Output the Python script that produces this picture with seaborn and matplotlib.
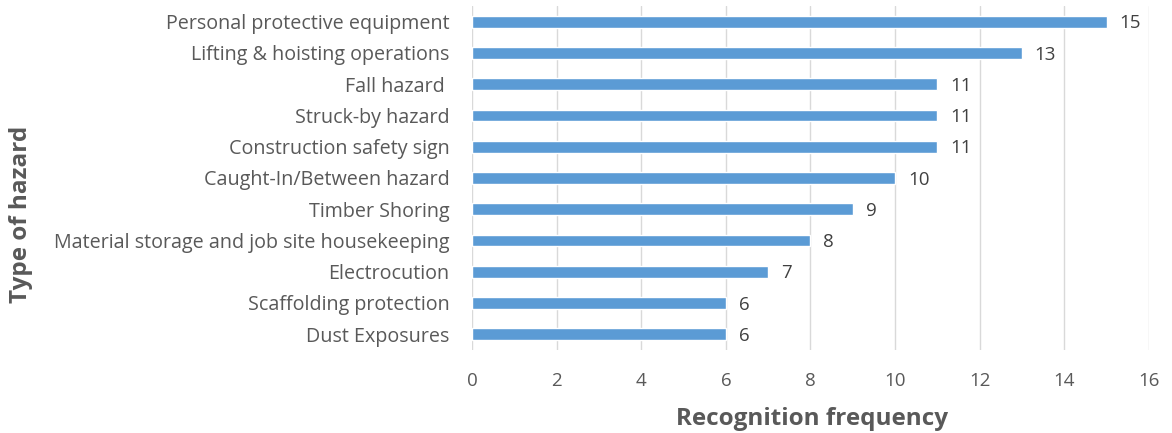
import matplotlib
matplotlib.use("Agg")
import matplotlib.pyplot as plt
import seaborn as sns
import pandas as pd

hazards = [
    "Personal protective equipment",
    "Lifting & hoisting operations",
    "Fall hazard ",
    "Struck-by hazard",
    "Construction safety sign",
    "Caught-In/Between hazard",
    "Timber Shoring",
    "Material storage and job site housekeeping",
    "Electrocution",
    "Scaffolding protection",
    "Dust Exposures",
]
frequency = [15, 13, 11, 11, 11, 10, 9, 8, 7, 6, 6]
x_ticks = [0, 2, 4, 6, 8, 10, 12, 14, 16]

data = pd.DataFrame({"hazard": hazards, "frequency": frequency})

sns.set_style("white")
plt.rcParams["font.family"] = ["Open Sans", "DejaVu Sans"]

fig = plt.figure(figsize=(11.72, 4.33), dpi=100)
ax = fig.add_axes([0.4027, 0.192, 0.5777, 0.794])

sns.barplot(data=data, x="frequency", y="hazard", color="#5B9BD5",
            width=0.38, saturation=1, ax=ax)

for i, v in enumerate(frequency):
    ax.text(v + 0.3, i + 0.05, str(v), va="center", ha="left",
            fontsize=13.5, color="#404040")

ax.set_xlim(0, 16)
ax.set_ylim(10.5, -0.5)
ax.set_xticks(x_ticks)
ax.xaxis.grid(True, color="#D9D9D9", linewidth=1)
ax.set_axisbelow(True)
for s in ax.spines.values():
    s.set_visible(False)
ax.tick_params(axis="both", length=0, labelcolor="#595959")
ax.tick_params(axis="x", pad=16, labelsize=13.5)
ax.tick_params(axis="y", pad=16, labelsize=14.2)

ax.set_xlabel("Recognition frequency", fontsize=17.5, fontweight="bold",
              color="#595959")
ax.xaxis.set_label_coords(0.502, -0.165)
ax.set_ylabel("Type of hazard", fontsize=17.5, fontweight="bold",
              color="#595959")
ax.yaxis.set_label_coords(-0.648, 0.395)

fig.savefig("out.png", dpi=100)
